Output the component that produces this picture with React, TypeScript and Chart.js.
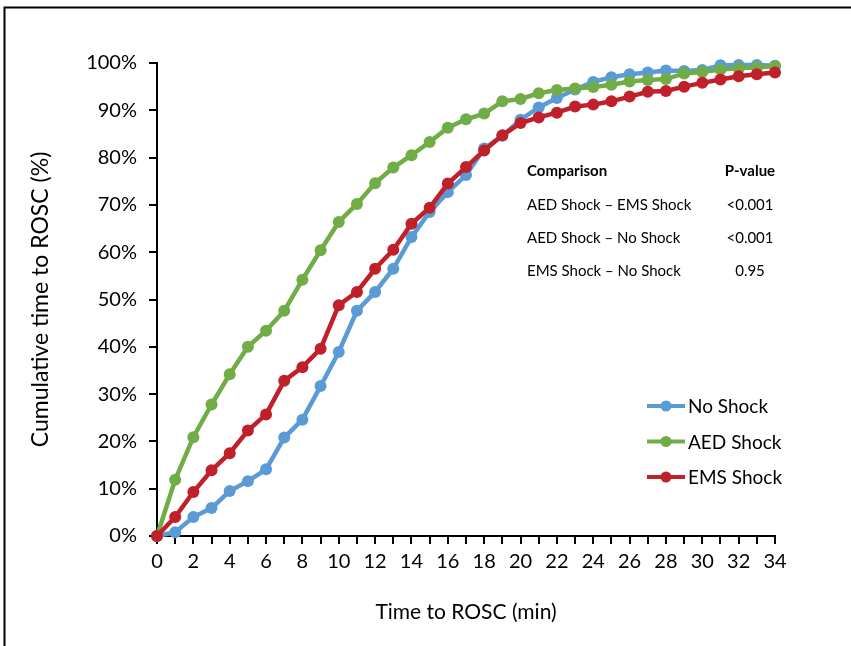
import React, { useEffect, useRef } from 'react';
import { Chart, registerables } from 'chart.js';

Chart.register(...registerables);

const minutes: number[] = Array.from({ length: 35 }, (_, i) => i);

const noShock: number[] = [
  0, 0.8, 4.0, 5.9, 9.5, 11.6, 14.1, 20.8, 24.6, 31.7, 38.9, 47.6, 51.6, 56.5, 63.2, 68.5, 72.7, 76.3,
  81.9, 84.6, 88.0, 90.6, 92.6, 94.4, 96.0, 97.0, 97.6, 98.0, 98.4, 98.3, 98.5, 99.5, 99.6, 99.6, 99.4,
];
const aedShock: number[] = [
  0, 11.9, 20.9, 27.8, 34.2, 40.0, 43.4, 47.6, 54.2, 60.4, 66.4, 70.2, 74.6, 77.9, 80.5, 83.3, 86.3, 88.1,
  89.3, 91.9, 92.4, 93.6, 94.3, 94.6, 94.9, 95.4, 96.1, 96.4, 96.6, 97.8, 98.1, 98.6, 98.9, 99.1, 99.3,
];
const emsShock: number[] = [
  0, 4.0, 9.3, 13.9, 17.5, 22.3, 25.7, 32.8, 35.7, 39.6, 48.8, 51.6, 56.5, 60.5, 66.0, 69.4, 74.5, 78.0,
  81.5, 84.7, 87.3, 88.5, 89.5, 90.8, 91.2, 91.9, 92.9, 93.9, 94.1, 95.0, 95.8, 96.5, 97.2, 97.6, 98.0,
];

const seriesNames: string[] = ['No Shock', 'AED Shock', 'EMS Shock'];
const seriesColors: string[] = ['#5B9BD5', '#70AD47', '#C0202A'];

const tableHeaders: string[] = ['Comparison', 'P-value'];
const comparisons: string[] = ['AED Shock \u2013 EMS Shock', 'AED Shock \u2013 No Shock', 'EMS Shock \u2013 No Shock'];
const pValues: string[] = ['<0.001', '<0.001', '0.95'];

const xTitle = 'Time to ROSC (min)';
const yTitle = 'Cumulative time to ROSC (%)';

const FONT = 'Lato, "Open Sans", sans-serif';

const decorPlugin = {
  id: 'decor',
  beforeDraw(chart: any) {
    const ctx = chart.ctx;
    ctx.save();
    ctx.fillStyle = '#ffffff';
    ctx.fillRect(0, 0, chart.width, chart.height);
    ctx.strokeStyle = '#000000';
    ctx.lineWidth = 2;
    ctx.beginPath();
    ctx.moveTo(4.5, chart.height);
    ctx.lineTo(4.5, 7.5);
    ctx.lineTo(chart.width, 7.5);
    ctx.stroke();
    ctx.restore();
  },
  afterDraw(chart: any) {
    const ctx = chart.ctx;
    ctx.save();
    // legend
    chart.data.datasets.forEach((ds: any, i: number) => {
      const y = 406 + i * 35.5;
      ctx.strokeStyle = ds.borderColor;
      ctx.lineWidth = 4;
      ctx.beginPath();
      ctx.moveTo(647, y);
      ctx.lineTo(685, y);
      ctx.stroke();
      ctx.fillStyle = ds.borderColor;
      ctx.beginPath();
      ctx.arc(666, y, 5.5, 0, Math.PI * 2);
      ctx.fill();
      ctx.fillStyle = '#000';
      ctx.font = `19px ${FONT}`;
      ctx.textAlign = 'left';
      ctx.textBaseline = 'middle';
      ctx.fillText(ds.label, 688, y + 1);
    });
    // table
    ctx.fillStyle = '#000';
    ctx.textBaseline = 'middle';
    ctx.font = `bold 15px ${FONT}`;
    ctx.textAlign = 'left';
    ctx.fillText(tableHeaders[0], 527, 171);
    ctx.textAlign = 'center';
    ctx.fillText(tableHeaders[1], 750, 171);
    ctx.font = `15px ${FONT}`;
    comparisons.forEach((c, i) => {
      const y = 205 + i * 33;
      ctx.textAlign = 'left';
      ctx.fillText(c, 527, y);
      ctx.textAlign = 'center';
      ctx.fillText(pValues[i], 750, y);
    });
    ctx.restore();
  },
};

export default function App() {
  const ref = useRef<HTMLCanvasElement | null>(null);
  useEffect(() => {
    document.body.style.margin = '0';
    const canvas = ref.current;
    if (!canvas) return;
    const mk = (label: string, data: number[], color: string, order: number) => ({
      label,
      data: minutes.map((m, i) => ({ x: m, y: data[i] })),
      borderColor: color,
      backgroundColor: color,
      borderWidth: 4.5,
      pointRadius: 6,
      pointHoverRadius: 6,
      pointBorderWidth: 0,
      pointBackgroundColor: color,
      tension: 0,
      clip: false,
      order,
    });
    const chart = new Chart(canvas, {
      type: 'line',
      data: {
        datasets: [
          mk(seriesNames[0], noShock, seriesColors[0], 3),
          mk(seriesNames[1], aedShock, seriesColors[1], 2),
          mk(seriesNames[2], emsShock, seriesColors[2], 1),
        ],
      },
      options: {
        responsive: false,
        animation: false,
        events: [],
        layout: { padding: { left: 0, top: 63, right: 76, bottom: 0 } },
        plugins: { legend: { display: false }, tooltip: { enabled: false } },
        scales: {
          x: {
            type: 'linear',
            min: 0,
            max: 34,
            ticks: {
              stepSize: 1,
              autoSkip: false,
              maxRotation: 0,
              color: '#000',
              font: { family: FONT, size: 20 },
              padding: 6,
              callback: (v: any) => (Number(v) % 2 === 0 ? String(v) : ''),
            },
            grid: { drawOnChartArea: false, drawTicks: true, tickLength: 8, color: '#000', lineWidth: 2 },
            border: { color: '#000', width: 2 },
            title: {
              display: true,
              text: xTitle,
              color: '#000',
              font: { family: FONT, size: 21 },
              padding: { top: 0, bottom: 21 },
            },
            afterFit: (s: any) => {
              s.height = 110;
            },
          },
          y: {
            min: 0,
            max: 100,
            ticks: {
              stepSize: 10,
              color: '#000',
              font: { family: FONT, size: 20 },
              padding: 12,
              callback: (v: any) => `${v}%`,
            },
            grid: { drawOnChartArea: false, drawTicks: true, tickLength: 8, color: '#000', lineWidth: 2 },
            border: { color: '#000', width: 2 },
            title: {
              display: true,
              text: yTitle,
              color: '#000',
              font: { family: FONT, size: 23 },
              padding: { top: 27, bottom: 0 },
            },
            afterFit: (s: any) => {
              s.width = 157;
            },
          },
        },
      },
      plugins: [decorPlugin],
    } as any);
    return () => chart.destroy();
  }, []);
  return <canvas ref={ref} width={851} height={646} style={{ display: 'block' }} />;
}
